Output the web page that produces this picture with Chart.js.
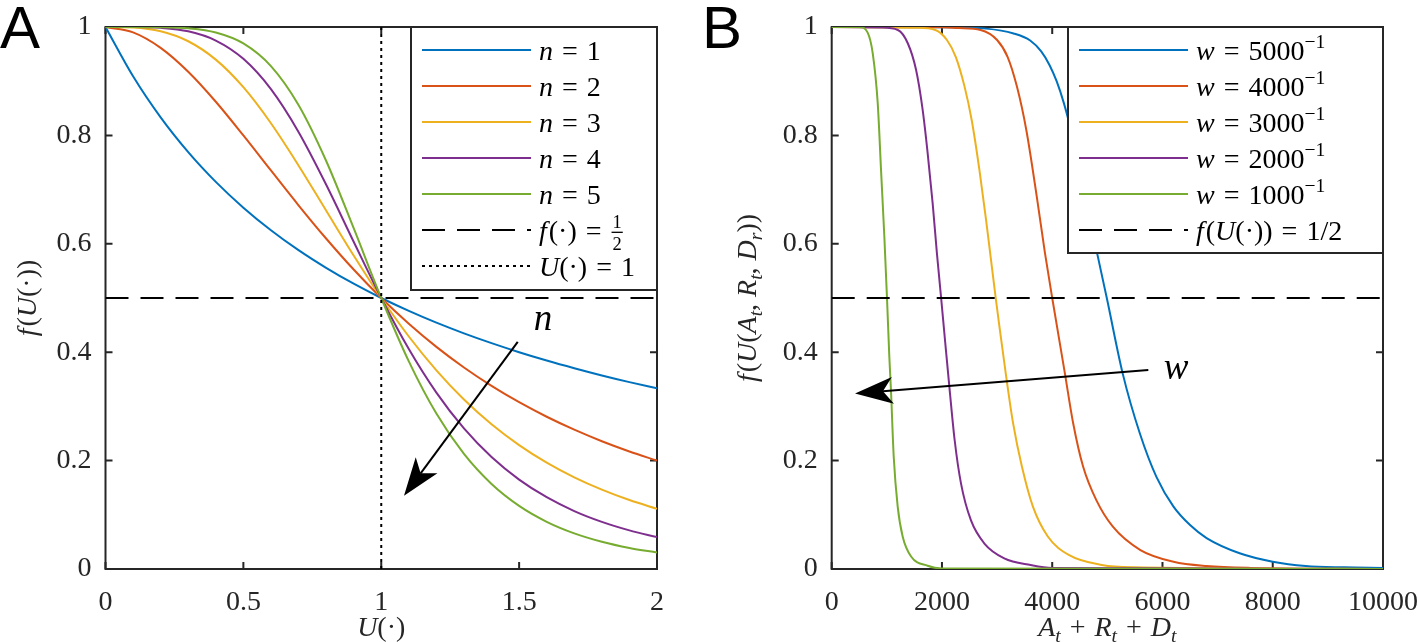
<!DOCTYPE html>
<html><head><meta charset="utf-8">
<script src="https://cdn.jsdelivr.net/npm/chart.js@4.4.0/dist/chart.umd.min.js"></script>
<style>
html,body{margin:0;padding:0;background:#fff;}
#wrap{position:relative;width:1418px;height:642px;overflow:hidden;background:#fff;}
#cA{position:absolute;left:0;top:0;}
#cB{position:absolute;left:680px;top:0;}
</style></head><body>
<div id="wrap"><canvas id="cA" width="680" height="642"></canvas><canvas id="cB" width="738" height="642"></canvas></div>
<script>
// ---------- Panel A data: f(U) for n = 1..5 ----------
const uValues = [0,0.1,0.2,0.3,0.4,0.5,0.6,0.7,0.8,0.9,1,1.1,1.2,1.3,1.4,1.5,1.6,1.7,1.8,1.9,2];
const fN1 = [1,0.9091,0.8333,0.7692,0.7143,0.6667,0.625,0.5882,0.5556,0.5263,0.5,0.4762,0.4545,0.4348,0.4167,0.4,0.3846,0.3704,0.3571,0.3448,0.3333];
const fN2 = [1,0.9901,0.9615,0.9174,0.8621,0.8,0.7353,0.6711,0.6098,0.5525,0.5,0.4525,0.4098,0.3717,0.3378,0.3077,0.2809,0.2571,0.2358,0.2169,0.2];
const fN3 = [1,0.999,0.9921,0.9737,0.9398,0.8889,0.8224,0.7446,0.6614,0.5784,0.5,0.429,0.3666,0.3128,0.2671,0.2286,0.1962,0.1691,0.1464,0.1272,0.1111];
const fN4 = [1,0.9999,0.9984,0.992,0.975,0.9412,0.8853,0.8064,0.7094,0.6038,0.5,0.4058,0.3254,0.2593,0.2065,0.1649,0.1324,0.1069,0.087,0.0713,0.0588];
const fN5 = [1,1,0.9997,0.9976,0.9899,0.9697,0.9278,0.8561,0.7532,0.6287,0.5,0.3831,0.2867,0.2122,0.1568,0.1164,0.0871,0.0658,0.0503,0.0388,0.0303];
const aXTicks = [0,0.5,1,1.5,2];
const aXTickLabels = ['0','0.5','1','1.5','2'];
const yTicks = [0,0.2,0.4,0.6,0.8,1];
const yTickLabels = ['0','0.2','0.4','0.6','0.8','1'];
const halfLevel = 0.5;
const uOne = 1;

// ---------- Panel B data: f(U(A+R+D)) for w = 5000^-1 .. 1000^-1 ----------
const xW5000 = [0,2000,2800,3300,3600,3800,3950,4080,4210,4340,4560,4820,4990,5280,5590,5890,6200,6500,6800,7400,8000,8600,9300,10000];
const yW5000 = [1,0.9995,0.997,0.988,0.975,0.955,0.93,0.9,0.86,0.81,0.71,0.58,0.5,0.36,0.25,0.17,0.115,0.081,0.057,0.029,0.0135,0.0055,0.003,0.002];
const xW4000 = [0,2000,2300,2700,3000,3190,3360,3530,3720,3870,4000,4230,4380,4560,4800,5100,5600,6200,6800,7600,10000];
const yW4000 = [1,0.9995,0.998,0.9945,0.976,0.945,0.89,0.81,0.687,0.582,0.5,0.361,0.269,0.189,0.127,0.078,0.035,0.0135,0.0055,0.002,0];
const xW3000 = [0,1550,1880,2090,2250,2410,2540,2680,2800,2890,2975,3035,3165,3290,3450,3650,3920,4300,4900,5500,10000];
const yW3000 = [1,0.9985,0.9945,0.976,0.945,0.89,0.828,0.736,0.644,0.57,0.5,0.453,0.355,0.269,0.189,0.115,0.06,0.026,0.0074,0.003,0];
const xW2000 = [0,900,1200,1380,1530,1650,1741,1831,1909,1985,2055,2140,2230,2345,2525,2770,3130,3610,4000,10000];
const yW2000 = [1,0.999,0.9945,0.97,0.921,0.847,0.767,0.675,0.582,0.5,0.4225,0.33,0.238,0.158,0.09,0.047,0.0197,0.0074,0.002,0];
const xW1000 = [0,500,650,745,835,895,955,1003,1045,1075,1125,1197,1287,1440,1740,2000,10000];
const yW1000 = [1,1,0.99,0.951,0.859,0.736,0.613,0.5,0.392,0.33,0.207,0.115,0.06,0.023,0.006,0.001,0];
const bXTicks = [0,2000,4000,6000,8000,10000];
const bXTickLabels = ['0','2000','4000','6000','8000','10000'];

// ---------- styles ----------
const SERIF = '"Liberation Serif","Times New Roman",serif';
const SANS = '"Liberation Sans",Arial,sans-serif';
const TXT = '#262626';
const COLORS = ['#0072BD','#D95319','#EDB120','#7E2F8E','#77AC30'];
const DASH = [23,12];
const DOT = [3,4];

function pts(xs, ys){ return xs.map((x,i)=>({x:x, y:ys[i]})); }
function curve(xs, ys, color, order){
  return {data: pts(xs,ys), borderColor: color, borderWidth: 2, pointRadius: 0,
          cubicInterpolationMode: 'monotone', fill: false, order: order};
}

// ---------- math text ----------
function fontStr(size, it){ return (it?'italic ':'') + size + 'px ' + SERIF; }
function segWidth(ctx, s, size){
  if (s.frac){ ctx.font = fontStr(size*0.66,false);
    return Math.max(ctx.measureText(s.frac[0]).width, ctx.measureText(s.frac[1]).width) + 4; }
  const sz = (s.sub||s.sup) ? size*0.7 : size;
  ctx.font = fontStr(sz, s.it);
  return (s.pre||0) + ctx.measureText(s.t).width + (s.sp||0);
}
function drawMath(ctx, segs, x, y, size, align){
  let w = 0; for (const s of segs) w += segWidth(ctx,s,size);
  let cx = align==='center' ? x - w/2 : (align==='right' ? x - w : x);
  ctx.textBaseline = 'alphabetic'; ctx.textAlign = 'left';
  for (const s of segs){
    const sw = segWidth(ctx,s,size);
    if (s.frac){
      ctx.font = fontStr(size*0.66,false); ctx.textAlign='center';
      ctx.fillText(s.frac[0], cx+sw/2, y - size*0.40);
      ctx.fillText(s.frac[1], cx+sw/2, y + size*0.36);
      ctx.fillRect(cx+1, y - size*0.28, sw-2, 1.3);
      ctx.textAlign='left';
    } else {
      const sz = (s.sub||s.sup) ? size*0.7 : size;
      ctx.font = fontStr(sz, s.it);
      const dy = s.sub ? size*0.2 : (s.sup ? -size*0.4 : 0);
      ctx.fillText(s.t, cx + (s.pre||0), y+dy);
    }
    cx += sw;
  }
}
function op(c){ return {t:c, pre:9, sp:9}; }

function drawArrow(ctx, x0, y0, x1, y1){
  const dx=x1-x0, dy=y1-y0, len=Math.hypot(dx,dy), ux=dx/len, uy=dy/len, px=-uy, py=ux;
  const L=38, W=13.5, N=28;
  ctx.save(); ctx.strokeStyle='#000'; ctx.fillStyle='#000'; ctx.lineWidth=2;
  ctx.beginPath(); ctx.moveTo(x0,y0); ctx.lineTo(x1-ux*N, y1-uy*N); ctx.stroke();
  ctx.beginPath(); ctx.moveTo(x1,y1);
  ctx.lineTo(x1-ux*L+px*W, y1-uy*L+py*W);
  ctx.lineTo(x1-ux*N, y1-uy*N);
  ctx.lineTo(x1-ux*L-px*W, y1-uy*L-py*W);
  ctx.closePath(); ctx.fill(); ctx.restore();
}

const extras = {
  cA: {
    letter: 'A', letterX: 0,
    legendW: 246, legendH: 263,
    legend: [
      {color:COLORS[0], label:[{t:'n',it:1},op('='),{t:'1'}]},
      {color:COLORS[1], label:[{t:'n',it:1},op('='),{t:'2'}]},
      {color:COLORS[2], label:[{t:'n',it:1},op('='),{t:'3'}]},
      {color:COLORS[3], label:[{t:'n',it:1},op('='),{t:'4'}]},
      {color:COLORS[4], label:[{t:'n',it:1},op('='),{t:'5'}]},
      {color:'#000', dash:DASH, label:[{t:'f',it:1,sp:2},{t:'(·)'},op('='),{frac:['1','2']}]},
      {color:'#000', dash:DOT, label:[{t:'U',it:1},{t:'(·)'},op('='),{t:'1'}]}
    ],
    xTitle: [{t:'U',it:1},{t:'(·)'}],
    yTitle: [{t:'f',it:1,sp:2},{t:'('},{t:'U',it:1},{t:'(·))'}],
    yTitleX: 36,
    arrow: {from:[1.495,0.419], to:[1.0825,0.135], label:'n', at:[1.587,0.456]}
  },
  cB: {
    letter: 'B', letterX: 22,
    legendW: 315, legendH: 226,
    legend: [
      {color:COLORS[0], label:[{t:'w',it:1},op('='),{t:'5000'},{t:'−1',sup:1}]},
      {color:COLORS[1], label:[{t:'w',it:1},op('='),{t:'4000'},{t:'−1',sup:1}]},
      {color:COLORS[2], label:[{t:'w',it:1},op('='),{t:'3000'},{t:'−1',sup:1}]},
      {color:COLORS[3], label:[{t:'w',it:1},op('='),{t:'2000'},{t:'−1',sup:1}]},
      {color:COLORS[4], label:[{t:'w',it:1},op('='),{t:'1000'},{t:'−1',sup:1}]},
      {color:'#000', dash:DASH, label:[{t:'f',it:1,sp:2},{t:'('},{t:'U',it:1},{t:'(·))'},op('='),{t:'1/2'}]}
    ],
    xTitle: [{t:'A',it:1},{t:'t',it:1,sub:1},op('+'),{t:'R',it:1},{t:'t',it:1,sub:1},op('+'),{t:'D',it:1},{t:'t',it:1,sub:1}],
    yTitle: [{t:'f',it:1,sp:2},{t:'('},{t:'U',it:1},{t:'('},{t:'A',it:1},{t:'t',it:1,sub:1},{t:', '},{t:'R',it:1},{t:'t',it:1,sub:1},{t:', '},{t:'D',it:1},{t:'r',it:1,sub:1},{t:'))'}],
    yTitleX: 76,
    arrow: {from:[5743,0.367], to:[423,0.324], label:'w', at:[6245,0.365]}
  }
};

const overlay = {
  id: 'overlay',
  beforeDatasetsDraw(chart){
    const ctx = chart.ctx, a = chart.chartArea, xs = chart.scales.x, ys = chart.scales.y;
    ctx.save();
    ctx.strokeStyle = TXT; ctx.lineWidth = 2;
    ctx.strokeRect(a.left, a.top, a.right-a.left, a.bottom-a.top);
    ctx.beginPath();
    for (const t of xs.ticks){ const p = xs.getPixelForValue(t.value);
      ctx.moveTo(p,a.bottom); ctx.lineTo(p,a.bottom-7); ctx.moveTo(p,a.top); ctx.lineTo(p,a.top+7); }
    for (const t of ys.ticks){ const p = ys.getPixelForValue(t.value);
      ctx.moveTo(a.left,p); ctx.lineTo(a.left+7,p); ctx.moveTo(a.right,p); ctx.lineTo(a.right-7,p); }
    ctx.stroke(); ctx.restore();
  },
  afterDatasetsDraw(chart){
    const e = extras[chart.canvas.id];
    const ctx = chart.ctx, a = chart.chartArea, xs = chart.scales.x, ys = chart.scales.y;
    ctx.save();
    // legend
    const lx = a.right - e.legendW, ly = a.top;
    ctx.fillStyle = '#fff'; ctx.fillRect(lx, ly, e.legendW, e.legendH);
    ctx.strokeStyle = TXT; ctx.lineWidth = 2; ctx.strokeRect(lx, ly, e.legendW, e.legendH);
    e.legend.forEach((it,i)=>{
      const yc = ly + 23 + 36*i;
      ctx.beginPath(); ctx.setLineDash(it.dash || []); ctx.strokeStyle = it.color; ctx.lineWidth = 2;
      ctx.moveTo(lx+11, yc); ctx.lineTo(lx+120, yc); ctx.stroke(); ctx.setLineDash([]);
      ctx.fillStyle = '#000';
      drawMath(ctx, it.label, lx+128, yc + 9.5, 28, 'left');
    });
    // arrow + label
    const ar = e.arrow;
    drawArrow(ctx, xs.getPixelForValue(ar.from[0]), ys.getPixelForValue(ar.from[1]),
                   xs.getPixelForValue(ar.to[0]), ys.getPixelForValue(ar.to[1]));
    ctx.fillStyle = '#000';
    drawMath(ctx, [{t:ar.label, it:1}], xs.getPixelForValue(ar.at[0]), ys.getPixelForValue(ar.at[1]) + 8, 37, 'center');
    // axis titles
    ctx.fillStyle = TXT;
    drawMath(ctx, e.xTitle, (a.left+a.right)/2, a.bottom + 67, 28, 'center');
    ctx.save(); ctx.translate(e.yTitleX, (a.top+a.bottom)/2); ctx.rotate(-Math.PI/2);
    drawMath(ctx, e.yTitle, 0, 0, 28, 'center'); ctx.restore();
    // panel letter
    ctx.fillStyle = '#000'; ctx.font = '60px ' + SANS; ctx.textAlign = 'left'; ctx.textBaseline = 'alphabetic';
    ctx.fillText(e.letter, e.letterX, 48);
    ctx.restore();
  }
};

function makeOptions(xMin, xMax, xTicks, xTickLabels, yAxisWidth, padRight){
  return {
    responsive: false, animation: false, devicePixelRatio: 1,
    layout: {padding: {left: 0, top: 27, right: padRight, bottom: 0}},
    plugins: {legend: {display: false}, tooltip: {enabled: false}},
    scales: {
      x: {type: 'linear', min: xMin, max: xMax,
          grid: {display: false}, border: {display: false},
          ticks: {color: TXT, font: {family: SERIF, size: 28}, padding: 9, maxRotation: 0, autoSkip: false,
                  callback: (v, i) => xTickLabels[i]},
          afterBuildTicks: s => { s.ticks = xTicks.map(v => ({value: v})); },
          afterFit: s => { s.height = 73; s.paddingLeft = 0; s.paddingRight = 0; }},
      y: {type: 'linear', min: 0, max: 1,
          grid: {display: false}, border: {display: false},
          ticks: {color: TXT, font: {family: SERIF, size: 28}, padding: 6, autoSkip: false,
                  callback: (v, i) => yTickLabels[i]},
          afterBuildTicks: s => { s.ticks = yTicks.map(v => ({value: v})); },
          afterFit: s => { s.width = yAxisWidth; s.paddingTop = 0; s.paddingBottom = 0; }}
    }
  };
}

new Chart(document.getElementById('cA'), {
  type: 'line',
  data: {datasets: [
    curve(uValues, fN1, COLORS[0], 5),
    curve(uValues, fN2, COLORS[1], 4),
    curve(uValues, fN3, COLORS[2], 3),
    curve(uValues, fN4, COLORS[3], 2),
    curve(uValues, fN5, COLORS[4], 1),
    {data: [{x: aXTicks[0], y: halfLevel}, {x: aXTicks[aXTicks.length-1], y: halfLevel}], borderColor: '#000', borderWidth: 2, borderDash: DASH, pointRadius: 0, order: 0},
    {data: [{x: uOne, y: 0}, {x: uOne, y: 1}], borderColor: '#000', borderWidth: 2, borderDash: DOT, pointRadius: 0, order: -1}
  ]},
  options: makeOptions(0, 2, aXTicks, aXTickLabels, 105.5, 23),
  plugins: [overlay]
});

new Chart(document.getElementById('cB'), {
  type: 'line',
  data: {datasets: [
    curve(xW5000, yW5000, COLORS[0], 5),
    curve(xW4000, yW4000, COLORS[1], 4),
    curve(xW3000, yW3000, COLORS[2], 3),
    curve(xW2000, yW2000, COLORS[3], 2),
    curve(xW1000, yW1000, COLORS[4], 1),
    {data: [{x: bXTicks[0], y: halfLevel}, {x: bXTicks[bXTicks.length-1], y: halfLevel}], borderColor: '#000', borderWidth: 2, borderDash: DASH, pointRadius: 0, order: 0}
  ]},
  options: makeOptions(0, 10000, bXTicks, bXTickLabels, 151.7, 35),
  plugins: [overlay]
});
</script>
</body></html>
